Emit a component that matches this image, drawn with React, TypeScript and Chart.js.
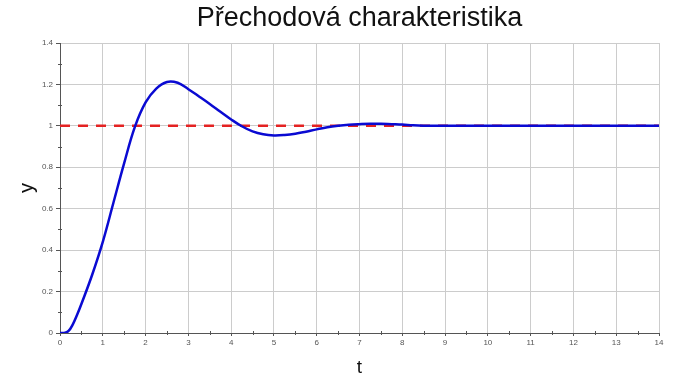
import React, { useEffect, useRef } from "react";
import { Chart, registerables } from "chart.js";

Chart.register(...registerables);

const titleText = "Přechodová charakteristika";
const xTitle = "t";
const yTitle = "y";

const tValues = [0, 0.1, 0.2, 0.3, 0.4, 0.5, 0.75, 1.0, 1.25, 1.5, 1.75, 2.0, 2.25, 2.5, 2.75, 3.0, 3.25, 3.5, 3.75, 4.0, 4.25, 4.5, 4.75, 5.0, 5.25, 5.5, 5.75, 6.0, 6.25, 6.5, 6.75, 7.0, 7.25, 7.5, 7.75, 8.0, 8.25, 8.5, 8.75, 9, 10, 11, 12, 13, 14];
const yValues = [0, 0.0, 0.01, 0.042, 0.088, 0.14, 0.28, 0.44, 0.63, 0.82, 0.995, 1.113, 1.18, 1.212, 1.208, 1.177, 1.142, 1.106, 1.068, 1.031, 0.998, 0.973, 0.959, 0.954, 0.956, 0.962, 0.972, 0.983, 0.993, 1.0, 1.005, 1.008, 1.01, 1.01, 1.008, 1.006, 1.003, 1.001, 1.0, 1.0, 1.0, 1.0, 1.0, 1.0, 1.0];

const refT = [0, 14];
const refY = [1, 1];

const xMin = 0, xMax = 14, xStep = 1;
const yMin = 0, yMax = 1.4, yStep = 0.2;

const FONT = "'Liberation Sans', Arial, sans-serif";

const minorTicks = {
  id: "minorTicks",
  afterDatasetsDraw(chart: any) {
    const { ctx, scales } = chart;
    const xs = scales.x, ys = scales.y;
    ctx.save();
    ctx.strokeStyle = "#555";
    ctx.lineWidth = 1;
    ctx.beginPath();
    for (let v = xMin + xStep / 2; v < xMax; v += xStep) {
      const px = Math.round(xs.getPixelForValue(v)) + 0.5;
      ctx.moveTo(px, ys.bottom - 2);
      ctx.lineTo(px, ys.bottom + 2);
    }
    for (let v = yMin + yStep / 2; v < yMax; v += yStep) {
      const py = Math.round(ys.getPixelForValue(v)) + 0.5;
      ctx.moveTo(xs.left - 2, py);
      ctx.lineTo(xs.left + 2, py);
    }
    ctx.stroke();
    ctx.restore();
  },
};

export default function App() {
  const ref = useRef<HTMLCanvasElement | null>(null);
  useEffect(() => {
    document.body.style.margin = "0";
    const ctx = ref.current!.getContext("2d")!;
    const chart = new Chart(ctx, {
      type: "line",
      data: {
        datasets: [
          {
            label: "y",
            data: tValues.map((t, i) => ({ x: t, y: yValues[i] })),
            borderColor: "#0a0ad2",
            borderWidth: 2.5,
            pointRadius: 0,
            fill: false,
            tension: 0.4,
            order: 1,
          },
          {
            label: "ref",
            data: refT.map((t, i) => ({ x: t, y: refY[i] })),
            borderColor: "#e42222",
            borderWidth: 2.5,
            borderDash: [10, 8],
            pointRadius: 0,
            fill: false,
            order: 2,
          },
        ],
      },
      options: {
        responsive: false,
        animation: false,
        layout: { padding: { left: 0, right: 17, top: 0, bottom: 0 } },
        plugins: {
          legend: { display: false },
          tooltip: { enabled: false },
          title: {
            display: true,
            text: titleText,
            fullSize: false,
            color: "#111",
            font: { family: FONT, size: 27, weight: "normal" },
            padding: { top: 2, bottom: 8.6 },
          },
        },
        scales: {
          x: {
            type: "linear",
            min: xMin,
            max: xMax,
            afterFit: (s: any) => { s.height = 47; },
            ticks: { stepSize: xStep, color: "#555", font: { family: FONT, size: 8 }, padding: 2, maxRotation: 0 },
            grid: { color: "#cccccc", lineWidth: 1, tickLength: 3, tickColor: "#555" },
            border: { color: "#555", width: 1 },
            title: { display: true, text: xTitle, color: "#111", font: { family: FONT, size: 19 }, padding: { top: 1, bottom: 1 } },
          },
          y: {
            type: "linear",
            min: yMin,
            max: yMax,
            afterFit: (s: any) => { s.width = 60; },
            ticks: { stepSize: yStep, color: "#555", font: { family: FONT, size: 8 }, padding: 3, callback: (v: any) => String(Math.round(Number(v) * 10) / 10) },
            grid: { color: "#cccccc", lineWidth: 1, tickLength: 4, tickColor: "#555" },
            border: { color: "#555", width: 1 },
            title: { display: true, text: yTitle, color: "#111", font: { family: FONT, size: 20 }, padding: { top: 15, bottom: 15 } },
          },
        },
      },
      plugins: [minorTicks],
    });
    return () => chart.destroy();
  }, []);
  return (
    <div style={{ width: 676, height: 380, background: "#fff" }}>
      <canvas ref={ref} width={676} height={380} />
    </div>
  );
}
